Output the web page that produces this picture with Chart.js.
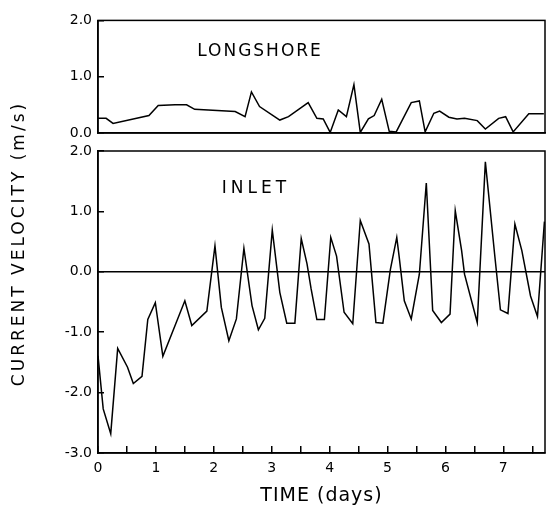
<!DOCTYPE html>
<html>
<head>
<meta charset="utf-8">
<script src="https://cdn.jsdelivr.net/npm/chart.js@4/dist/chart.umd.min.js"></script>
<style>
  body { margin: 0; background: #fff; }
  #wrap { position: relative; width: 548px; height: 509px; }
  #wrap canvas { position: absolute; left: 0; top: 0; }
</style>
</head>
<body>
<div id="wrap">
  <canvas id="topChart" width="548" height="509"></canvas>
  <canvas id="bottomChart" width="548" height="509"></canvas>
</div>
<script>
// --- data ---
const longshoreTime = [0, 0.14, 0.26, 0.88, 1.04, 1.33, 1.53, 1.67, 2.37, 2.54, 2.65, 2.79, 3.14, 3.29, 3.63, 3.78, 3.89, 4.01, 4.15, 4.29, 4.42, 4.53, 4.67, 4.77, 4.90, 5.03, 5.15, 5.41, 5.55, 5.65, 5.80, 5.90, 6.06, 6.20, 6.33, 6.55, 6.69, 6.92, 7.04, 7.17, 7.44, 7.70];
const longshoreSpeed = [0.26, 0.26, 0.17, 0.31, 0.49, 0.50, 0.50, 0.42, 0.38, 0.29, 0.73, 0.47, 0.23, 0.29, 0.54, 0.26, 0.25, 0.01, 0.41, 0.29, 0.86, 0.01, 0.25, 0.31, 0.60, 0.03, 0.02, 0.54, 0.57, 0.02, 0.35, 0.39, 0.28, 0.25, 0.26, 0.22, 0.07, 0.26, 0.29, 0.02, 0.34, 0.34];

const inletTime = [0, 0.09, 0.22, 0.34, 0.51, 0.61, 0.76, 0.86, 0.99, 1.12, 1.50, 1.62, 1.88, 2.02, 2.13, 2.26, 2.39, 2.52, 2.66, 2.77, 2.88, 3.01, 3.14, 3.26, 3.40, 3.51, 3.61, 3.68, 3.78, 3.91, 4.02, 4.12, 4.25, 4.40, 4.53, 4.68, 4.80, 4.92, 5.05, 5.16, 5.20, 5.29, 5.41, 5.55, 5.67, 5.78, 5.93, 6.08, 6.17, 6.28, 6.33, 6.55, 6.69, 6.85, 6.95, 7.08, 7.20, 7.32, 7.47, 7.59, 7.71];
const inletSpeed = [-1.39, -2.27, -2.68, -1.27, -1.58, -1.85, -1.73, -0.79, -0.51, -1.40, -0.48, -0.89, -0.65, 0.43, -0.59, -1.14, -0.78, 0.39, -0.56, -0.96, -0.77, 0.69, -0.34, -0.85, -0.85, 0.55, 0.13, -0.28, -0.79, -0.79, 0.57, 0.26, -0.67, -0.86, 0.85, 0.46, -0.84, -0.85, 0.04, 0.57, 0.26, -0.48, -0.78, -0.04, 1.47, -0.64, -0.84, -0.70, 1.01, 0.35, -0.04, -0.84, 1.82, 0.29, -0.63, -0.69, 0.79, 0.35, -0.40, -0.74, 0.83];

const timeMax = 7.72;
const topRange = [0, 2];
const bottomRange = [-3, 2];

const FONT = 'DejaVu Sans';

// box around the plot area + free text
const framePlugin = {
    id: 'frame',
    afterDraw(chart) {
        const a = chart.chartArea;
        const ctx = chart.ctx;
        ctx.save();
        ctx.strokeStyle = '#000';
        ctx.lineWidth = 1.5;
        ctx.strokeRect(a.left, a.top, a.right - a.left, a.bottom - a.top);
        const items = (chart.options.plugins.texts || {}).items || [];
        items.forEach(t => {
            ctx.save();
            ctx.translate(t.x, t.y);
            if (t.rotate) ctx.rotate(t.rotate);
            ctx.font = t.font;
            ctx.letterSpacing = (t.spacing || 0) + 'px';
            ctx.fillStyle = '#000';
            ctx.textAlign = 'center';
            ctx.textBaseline = 'middle';
            ctx.fillText(t.text, (t.spacing || 0) / 2, 0);
            ctx.restore();
        });
        ctx.restore();
    }
};

function toPoints(xs, ys) {
    return xs.map((x, i) => ({ x: x, y: ys[i] }));
}

function yAxis(range, zeroLine) {
    return {
        type: 'linear',
        min: range[0],
        max: range[1],
        afterFit: s => { s.width = 98; },
        border: { display: true, color: '#000', width: 1.5 },
        grid: {
            drawOnChartArea: zeroLine,
            color: c => (zeroLine && c.tick && c.tick.value === 0) ? '#000' : 'rgba(0,0,0,0)',
            tickColor: '#000',
            tickLength: -6,
            lineWidth: 1.5
        },
        ticks: {
            stepSize: 1,
            padding: 12,
            color: '#000',
            font: { family: FONT, size: 14 },
            callback: v => v.toFixed(1)
        }
    };
}

// --- top panel: longshore ---
new Chart(document.getElementById('topChart'), {
    type: 'line',
    data: {
        datasets: [{
            data: toPoints(longshoreTime, longshoreSpeed),
            borderColor: '#000',
            borderWidth: 1.5,
            pointRadius: 0,
            tension: 0,
            fill: false
        }]
    },
    options: {
        responsive: false,
        animation: false,
        devicePixelRatio: 1,
        layout: { padding: { left: 0, right: 3, top: 13, bottom: 376 } },
        plugins: {
            legend: { display: false },
            tooltip: { enabled: false },
            texts: { items: [
                { text: 'LONGSHORE', x: 259, y: 52, font: '17px "DejaVu Sans"', spacing: 2 }
            ] }
        },
        scales: {
            x: {
                type: 'linear',
                min: 0,
                max: timeMax,
                afterFit: s => { s.height = 0; },
                border: { display: true, color: '#000', width: 1.5 },
                grid: { display: false },
                ticks: { display: false }
            },
            y: yAxis(topRange, false)
        }
    },
    plugins: [framePlugin]
});

// --- bottom panel: inlet ---
new Chart(document.getElementById('bottomChart'), {
    type: 'line',
    data: {
        datasets: [{
            data: toPoints(inletTime, inletSpeed),
            borderColor: '#000',
            borderWidth: 1.5,
            pointRadius: 0,
            tension: 0,
            fill: false
        }]
    },
    options: {
        responsive: false,
        animation: false,
        devicePixelRatio: 1,
        layout: { padding: { left: 0, right: 3, top: 151, bottom: 0 } },
        plugins: {
            legend: { display: false },
            tooltip: { enabled: false },
            texts: { items: [
                { text: 'INLET', x: 254, y: 189, font: '17px "DejaVu Sans"', spacing: 4 },
                { text: 'TIME (days)', x: 321, y: 496, font: '19px "DejaVu Sans"', spacing: 1 },
                { text: 'CURRENT VELOCITY (m/s)', x: 20, y: 245, rotate: -Math.PI / 2, font: '17px "DejaVu Sans"', spacing: 3 }
            ] }
        },
        scales: {
            x: {
                type: 'linear',
                min: 0,
                max: timeMax,
                afterFit: s => { s.height = 56; },
                border: { display: true, color: '#000', width: 1.5 },
                grid: {
                    drawOnChartArea: false,
                    tickColor: '#000',
                    tickLength: -7,
                    lineWidth: 1.5
                },
                ticks: {
                    stepSize: 0.5,
                    includeBounds: false,
                    maxRotation: 0,
                    autoSkip: false,
                    padding: 14,
                    color: '#000',
                    font: { family: FONT, size: 14 },
                    callback: v => Number.isInteger(v) ? String(v) : ''
                }
            },
            y: yAxis(bottomRange, true)
        }
    },
    plugins: [framePlugin]
});
</script>
</body>
</html>
